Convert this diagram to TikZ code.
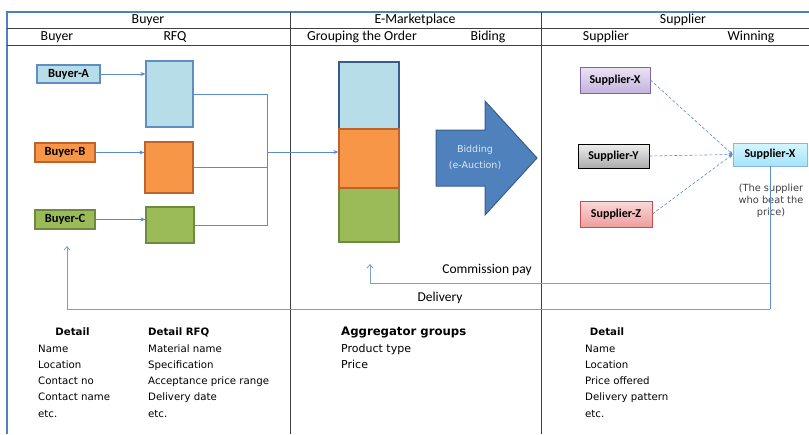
\documentclass[tikz,border=0pt]{standalone}
\usepackage{fontspec}
\setmainfont{Carlito}
\newfontfamily\tahoma{DejaVu Sans}
\usetikzlibrary{arrows.meta,positioning,shadows}
\definecolor{boxblue}{HTML}{B7DDE8}
\definecolor{edgeblue}{HTML}{5E8FC0}
\definecolor{boxorange}{HTML}{F79646}
\definecolor{edgeorange}{HTML}{C0622C}
\definecolor{boxgreen}{HTML}{9BBB59}
\definecolor{edgegreen}{HTML}{6E8B3D}
\definecolor{lineblue}{HTML}{5B8BC9}
\definecolor{paleblue}{HTML}{7A9ECF}
\definecolor{frameblue}{HTML}{4F81BD}
\definecolor{arrowblue}{HTML}{4F81BD}
\definecolor{arrowedge}{HTML}{385D8A}
\definecolor{bidtext}{HTML}{DCE6F2}
\definecolor{purpletop}{HTML}{EAE3F4}
\definecolor{purplebot}{HTML}{C4B4DE}
\definecolor{purpleedge}{HTML}{8064A2}
\definecolor{graytop}{HTML}{EEEEEE}
\definecolor{graybot}{HTML}{ABABAB}
\definecolor{pinktop}{HTML}{FBD9D8}
\definecolor{pinkbot}{HTML}{EE9E9C}
\definecolor{pinkedge}{HTML}{C0504D}
\definecolor{cyantop}{HTML}{D6F6FF}
\definecolor{cyanbot}{HTML}{A3E4F8}
\definecolor{cyanedge}{HTML}{8DB3E2}
\definecolor{sepgray}{HTML}{404040}

\begin{document}
\begin{tikzpicture}[x=1pt, y=-1pt,
  >={Stealth[length=5pt, width=4pt]},
  blk/.style={draw, line width=1.2pt, inner sep=0pt},
  tag/.style={blk, font=\bfseries\fontsize{12.5}{14}\selectfont},
  sup/.style={draw, line width=0.8pt, inner sep=0pt, font=\bfseries\fontsize{12}{14}\selectfont,
    drop shadow={opacity=0.35, shadow xshift=1.2pt, shadow yshift=-1.2pt}},
  lnk/.style={draw=lineblue, line width=0.8pt},
  ret/.style={draw=paleblue, line width=0.8pt, -{Straight Barb[length=3.5pt, width=6pt]}},
  dot/.style={draw=lineblue, line width=0.6pt, densely dashed, -{Stealth[length=4pt, width=3.5pt]}},
  hdr/.style={font=\fontsize{13.8}{15}\selectfont, inner sep=0pt},
  lbl/.style={font=\fontsize{13.5}{15}\selectfont, inner sep=0pt},
  dtlh/.style={font=\tahoma\bfseries\fontsize{10.2}{12}\selectfont, inner sep=0pt, text height=7.5pt, text depth=2pt},
  dtl/.style={font=\tahoma\fontsize{10.2}{12}\selectfont, anchor=west, inner sep=0pt, text height=7.5pt, text depth=2pt}]
\useasboundingbox (0,0) rectangle (809,434);
% table frame
\draw[frameblue, line width=1.4pt] (7,434) -- (7,12) -- (809,12);
\draw[sepgray, line width=0.6pt] (7,28) -- (809,28);
\draw[sepgray, line width=0.6pt] (7,45) -- (809,45);
\draw[sepgray, line width=0.8pt] (290,12) -- (290,434);
\draw[sepgray, line width=0.8pt] (541,12) -- (541,434);
\node[hdr] (hBuy) at (148,20) {Buyer};
\node[hdr] (hMkt) at (415,20) {E-Marketplace};
\node[hdr] (hSup) at (683,20) {Supplier};
\node[hdr] (sBuy) at (57,37) {Buyer};
\node[hdr] (sRfq) at (175,37) {RFQ};
\node[hdr] (sGrp) at (362,37) {Grouping the Order};
\node[hdr] (sBid) at (488,37) {Biding};
\node[hdr] (sSup) at (606,37) {Supplier};
\node[hdr] (sWin) at (751,37) {Winning};
% buyers and RFQ
\node[tag, fill=boxblue, draw=edgeblue, minimum width=63pt, minimum height=18pt] (byA) at (68.5,74) {Buyer-A};
\node[tag, fill=boxorange, draw=edgeorange, minimum width=60pt, minimum height=19pt] (byB) at (65,152.5) {Buyer-B};
\node[tag, fill=boxgreen, draw=edgegreen, minimum width=60pt, minimum height=19pt] (byC) at (65,219.5) {Buyer-C};
\node[blk, fill=boxblue, draw=edgeblue, minimum width=47pt, minimum height=66pt] (rfqA) at (169.5,94) {};
\node[blk, fill=boxorange, draw=edgeorange, minimum width=48pt, minimum height=51pt] (rfqB) at (169,167.5) {};
\node[blk, fill=boxgreen, draw=edgegreen, minimum width=48pt, minimum height=36pt] (rfqC) at (170,225) {};
\draw[lnk, ->] (byA) -- (byA -| rfqA.west);
\draw[lnk, ->] (byB) -- (byB -| rfqB.west);
\draw[lnk, ->] (byC) -- (byC -| rfqC.west);
% grouped order
\node[blk, fill=boxblue, draw=arrowedge, minimum width=60pt, minimum height=67pt] (grpA) at (369,95.5) {};
\node[blk, fill=boxgreen, draw=edgegreen, minimum width=60pt, minimum height=54pt] (grpC) at (369,215) {};
\node[blk, fill=boxorange, draw=edgeorange, minimum width=60pt, minimum height=59pt] (grpB) at (369,158.5) {};
\coordinate (jn) at (267,152);
\draw[lnk] (rfqA.east) -| (jn |- rfqC.east) -- (rfqC.east);
\draw[lnk] (rfqB.east) -- (rfqB.east -| jn);
\draw[lnk, ->] (jn) -- (jn -| grpB.west);
% bidding arrow
\draw[fill=arrowblue, draw=arrowedge, line width=1pt] (436,130) -- (485,130) -- (485,101) -- (537,158) -- (485,215) -- (485,186) -- (436,186) -- cycle;
\node[font=\tahoma\fontsize{9.5}{16}\selectfont, text=bidtext, align=center, inner sep=0pt] (bid) at (475,158) {Bidding\\(e-Auction)};
% suppliers
\node[sup, top color=purpletop, bottom color=purplebot, draw=purpleedge, minimum width=70pt, minimum height=26pt] (spX) at (615,80) {Supplier-X};
\node[sup, top color=graytop, bottom color=graybot, draw=black, minimum width=71pt, minimum height=24pt] (spY) at (613.5,156) {Supplier-Y};
\node[sup, top color=pinktop, bottom color=pinkbot, draw=pinkedge, minimum width=72pt, minimum height=26pt] (spZ) at (616,214) {Supplier-Z};
\node[sup, top color=cyantop, bottom color=cyanbot, draw=cyanedge, minimum width=74pt, minimum height=23pt] (win) at (770,154.5) {Supplier-X};
\draw[dot] (spX.east) -- (win.west);
\draw[dot] (spY.east) -- (win.west);
\draw[dot] (spZ.east) -- (win.west);
\node[font=\tahoma\fontsize{9.8}{12}\selectfont, text=sepgray, align=center, inner sep=0pt] (winNote) at (771,201) {(The supplier\\who beat the\\price)};
% commission and delivery
\coordinate (cmsR) at (770,283);
\coordinate (dlvR) at (770,309);
\coordinate (cms) at (370,264);
\coordinate (dlv) at (67,246);
\draw[lnk] (win.south) -- (dlvR);
\draw[ret] (dlvR) -| (dlv);
\draw[ret] (cmsR) -| (cms);
\node[lbl] (cmsL) at (487,270) {Commission pay};
\node[lbl] (dlvL) at (440,298) {Delivery};
% details
\node[dtlh] (bdT) at (72.5,333) {Detail};
\foreach \itm [count=\i] in {Name, Location, Contact no, Contact name, etc.}
  \node[dtl] (bd\i) at (38,{333+16.3*\i}) {\itm};
\node[dtlh, anchor=west] (rdT) at (148,333) {Detail RFQ};
\foreach \itm [count=\i] in {Material name, Specification, Acceptance price range, Delivery date, etc.}
  \node[dtl] (rd\i) at (148,{333+16.3*\i}) {\itm};
\node[dtlh, anchor=west, font=\tahoma\bfseries\fontsize{11.7}{13}\selectfont] (agT) at (341,333) {Aggregator groups};
\foreach \itm [count=\i] in {Product type, Price}
  \node[dtl, font=\tahoma\fontsize{11}{13}\selectfont] (ag\i) at (341,{333+16.3*\i}) {\itm};
\node[dtlh] (sdT) at (607,333) {Detail};
\foreach \itm [count=\i] in {Name, Location, Price offered, Delivery pattern, etc.}
  \node[dtl] (sd\i) at (585,{333+16.3*\i}) {\itm};
\end{tikzpicture}
\end{document}
